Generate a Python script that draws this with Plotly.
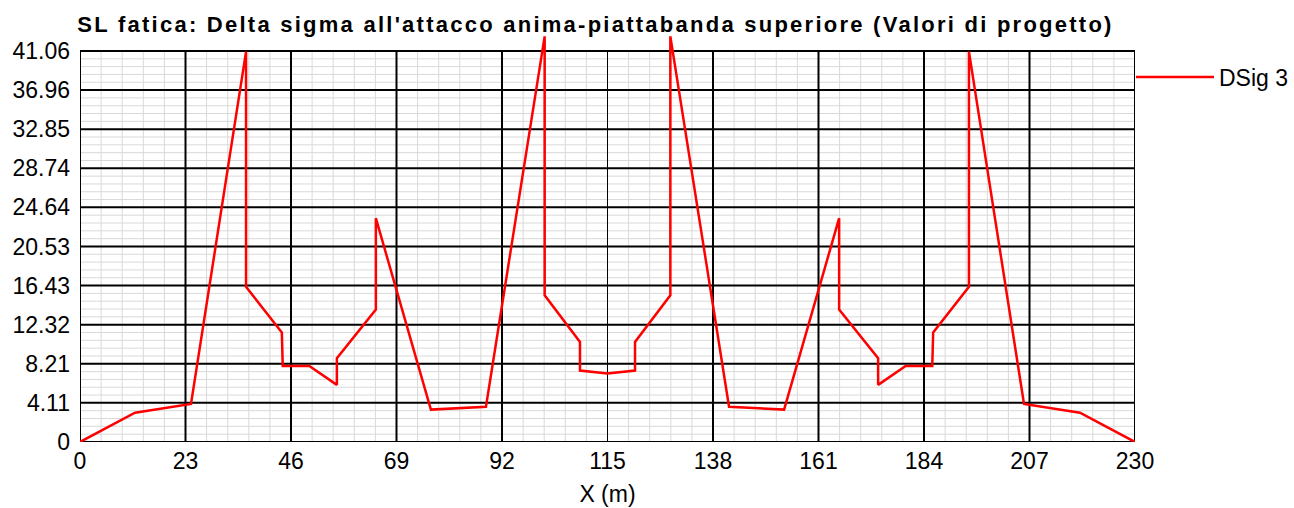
import plotly.graph_objects as go

# ---- data ----
x_m = [0, 12, 24.2, 36.2, 36.2, 44, 44.2, 50, 56, 56, 64.5, 64.5, 76.5, 88.5,
       101.3, 101.3, 109, 109, 115, 121, 121, 128.7, 128.7, 141.5, 153.5,
       165.5, 165.5, 174, 174, 180, 185.8, 186, 193.8, 193.8, 205.8, 218, 230]
dsig3 = [0, 3.08, 3.99, 41.0, 16.3, 11.5, 7.98, 7.98, 6.0, 8.8, 13.9, 23.5, 3.4, 3.7,
         42.6, 15.4, 10.5, 7.5, 7.2, 7.5, 10.5, 15.4, 42.6, 3.7, 3.4,
         23.5, 13.9, 8.8, 6.0, 7.98, 7.98, 11.5, 16.3, 41.0, 3.99, 3.08, 0]

x_ticks = [0, 23, 46, 69, 92, 115, 138, 161, 184, 207, 230]
y_ticks = [0, 4.11, 8.21, 12.32, 16.43, 20.53, 24.64, 28.74, 32.85, 36.96, 41.06]
y_tick_text = ["0", "4.11", "8.21", "12.32", "16.43", "20.53", "24.64",
               "28.74", "32.85", "36.96", "41.06"]

FONT = "Liberation Sans, Arial, sans-serif"
N_MINOR = 5

fig = go.Figure()
fig.add_trace(go.Scatter(x=x_m, y=dsig3, mode="lines", name="DSig 3",
                         line=dict(color="#ff0000", width=2.5)))

xmin, xmax = x_ticks[0], x_ticks[-1]
ymin, ymax = y_ticks[0], y_ticks[-1]
shapes = []
# minor grid
for i in range(len(x_ticks) - 1):
    st = (x_ticks[i + 1] - x_ticks[i]) / N_MINOR
    for k in range(1, N_MINOR):
        xv = x_ticks[i] + k * st
        shapes.append(dict(type="line", xref="x", yref="y", x0=xv, x1=xv, y0=ymin, y1=ymax,
                           line=dict(color="#d9d9d9", width=1), layer="below"))
for i in range(len(y_ticks) - 1):
    st = (y_ticks[i + 1] - y_ticks[i]) / N_MINOR
    for k in range(1, N_MINOR):
        yv = y_ticks[i] + k * st
        shapes.append(dict(type="line", xref="x", yref="y", x0=xmin, x1=xmax, y0=yv, y1=yv,
                           line=dict(color="#d9d9d9", width=1), layer="below"))
# major grid
for xv in x_ticks[1:-1]:
    w = 1 if xv == 115 else 2
    shapes.append(dict(type="line", xref="x", yref="y", x0=xv, x1=xv, y0=ymin, y1=ymax,
                       line=dict(color="black", width=w), layer="below"))
for yv in y_ticks[1:-1]:
    shapes.append(dict(type="line", xref="x", yref="y", x0=xmin, x1=xmax, y0=yv, y1=yv,
                       line=dict(color="black", width=2), layer="below"))
# frame
shapes.append(dict(type="rect", xref="x", yref="y", x0=xmin, x1=xmax, y0=ymin, y1=ymax,
                   line=dict(color="black", width=2), layer="below"))

top_px, bot_px = 32, 66
plot_h = 508 - top_px - bot_px
y_top = ymax * plot_h / 391.0

fig.update_layout(
    width=1294, height=508,
    margin=dict(l=80, r=159, t=top_px, b=bot_px, pad=0, autoexpand=False),
    paper_bgcolor="white", plot_bgcolor="white",
    font=dict(family=FONT, size=23, color="black"),
    title=dict(text="<b>SL fatica: Delta sigma all'attacco anima-piattabanda superiore (Valori di progetto)</b>",
               x=595.5 / 1294, xref="container", xanchor="center",
               y=1 - 24 / 508, yref="container", yanchor="middle",
               font=dict(family=FONT, size=22, color="black")),
    shapes=shapes,
    showlegend=True,
    legend=dict(x=1131 / 1294, xref="container", xanchor="left",
                y=1 - 77 / 508, yref="container", yanchor="middle",
                font=dict(family=FONT, size=23, color="black"),
                bgcolor="rgba(0,0,0,0)", itemwidth=78),
    xaxis=dict(range=[xmin, xmax], tickvals=x_ticks, ticktext=[str(v) for v in x_ticks],
               showgrid=False, zeroline=False, showline=False, ticks="",
               tickfont=dict(size=23), ticklabelstandoff=3,
               title=dict(text="X (m)", font=dict(size=23), standoff=12)),
    yaxis=dict(range=[ymin, y_top], tickvals=y_ticks, ticktext=y_tick_text,
               showgrid=False, zeroline=False, showline=False, ticks="",
               tickfont=dict(size=23), ticklabelstandoff=9),
)

post = """
var t = document.querySelector('.gtitle');
if (t) { t.style.letterSpacing = '2.25px'; }
"""
fig.write_html("out.html", post_script=post)
